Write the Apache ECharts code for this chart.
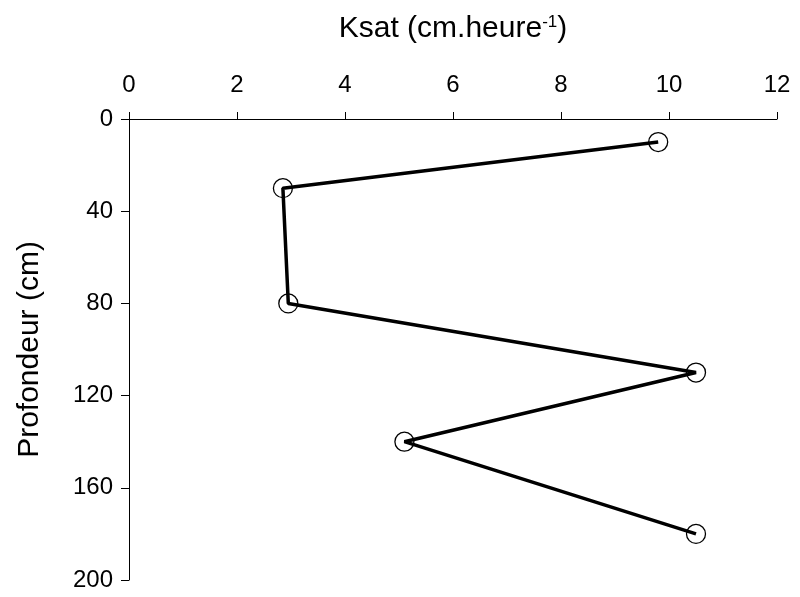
<!DOCTYPE html>
<html>
<head>
<meta charset="utf-8">
<script src="https://cdn.jsdelivr.net/npm/echarts@6/dist/echarts.min.js"></script>
<style>
  html, body { margin: 0; padding: 0; background: #fff; }
  #chart { width: 800px; height: 597px; }
</style>
</head>
<body>
<div id="chart"></div>
<script>
// Saturated hydraulic conductivity by depth
const ksat = [9.8, 2.85, 2.95, 10.5, 5.1, 10.5];   // cm.h-1
const depth = [10, 30, 80, 110, 140, 180];        // cm
const xTicks = [0, 2, 4, 6, 8, 10, 12];
const yTicks = [0, 40, 80, 120, 160, 200];

const points = ksat.map((k, i) => [k, depth[i]]);
const font = 'Liberation Sans, Arial, sans-serif';

const chart = echarts.init(document.getElementById('chart'));
chart.setOption({
  animation: false,
  backgroundColor: '#fff',
  grid: { left: 129, right: 23, top: 119, bottom: 17 },
  xAxis: {
    type: 'value',
    position: 'top',
    min: xTicks[0],
    max: xTicks[xTicks.length - 1],
    interval: 2,
    name: '{a|Ksat (cm.heure}{b|-1}{a|)}',
    nameLocation: 'middle',
    nameGap: 75,
    nameTextStyle: {
      rich: {
        a: { fontFamily: font, fontSize: 30, color: '#000' },
        b: { fontFamily: font, fontSize: 17, color: '#000', verticalAlign: 'top', padding: [0, 0, 13, 0] }
      }
    },
    axisLine: { show: true, lineStyle: { color: '#000', width: 1 } },
    axisTick: { show: true, inside: false, length: 7, lineStyle: { color: '#000' } },
    axisLabel: { fontFamily: font, fontSize: 24, color: '#000', margin: 22 },
    splitLine: { show: false }
  },
  yAxis: {
    type: 'value',
    inverse: true,
    min: yTicks[0],
    max: yTicks[yTicks.length - 1],
    interval: 40,
    name: 'Profondeur (cm)',
    nameLocation: 'middle',
    nameGap: 84,
    nameRotate: 90,
    nameTextStyle: { fontFamily: font, fontSize: 30, color: '#000' },
    axisLine: { show: true, lineStyle: { color: '#000', width: 1 } },
    axisTick: { show: true, inside: false, length: 8, lineStyle: { color: '#000' } },
    axisLabel: { fontFamily: font, fontSize: 24, color: '#000', margin: 16 },
    splitLine: { show: false }
  },
  series: [{
    type: 'line',
    data: points,
    symbol: 'circle',
    symbolSize: 19,
    showAllSymbol: true,
    lineStyle: { color: '#000', width: 3.5 },
    itemStyle: { color: 'rgba(0,0,0,0)', borderColor: '#000', borderWidth: 1.3 }
  }]
});
</script>
</body>
</html>
